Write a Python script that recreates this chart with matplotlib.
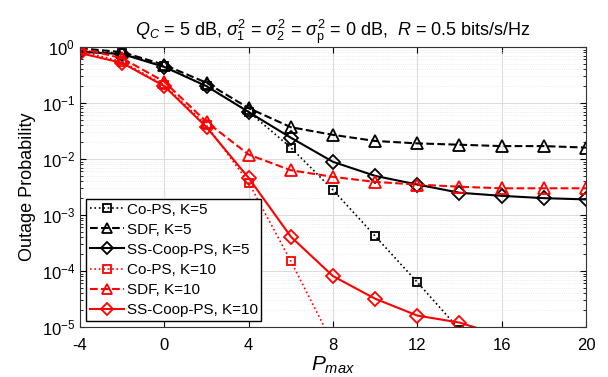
import numpy as np
import matplotlib.pyplot as plt

plt.rcParams['font.family'] = ['Liberation Sans', 'DejaVu Sans']
plt.rcParams['mathtext.fontset'] = 'custom'
plt.rcParams['mathtext.rm'] = 'Liberation Sans'
plt.rcParams['mathtext.it'] = 'Liberation Sans:italic'
plt.rcParams['axes.unicode_minus'] = False

# 发射功率 (dB)
p_max = [-4, -2, 0, 2, 4, 6, 8, 10, 12, 14, 16, 18, 20]

# K=5
co_ps_k5 = [0.85, 0.78, 0.45, 0.2, 0.07, 0.016, 0.0028, 0.00042, 6.3e-5, 9e-6]
sdf_k5 = [0.95, 0.81, 0.48, 0.23, 0.081, 0.037, 0.027, 0.021, 0.019, 0.018, 0.017, 0.017, 0.016]
ss_k5 = [0.82, 0.75, 0.44, 0.2, 0.069, 0.024, 0.0089, 0.005, 0.0035, 0.0025, 0.0022, 0.002, 0.0019]

# K=10
co_ps_k10 = [0.85, 0.55, 0.21, 0.04, 0.0038, 0.00015, 5e-6]
sdf_k10 = [0.95, 0.63, 0.24, 0.046, 0.012, 0.0063, 0.0048, 0.0039, 0.0035, 0.0032, 0.003, 0.003, 0.003]
ss_k10 = [0.78, 0.52, 0.2, 0.037, 0.0046, 0.00041, 8.1e-5, 3.2e-5, 1.6e-5, 1.2e-5, 7e-6]

fig = plt.figure(figsize=(6.08, 3.77), dpi=100)
ax = fig.add_axes([0.1316, 0.1326, 0.8322, 0.7427])

mk = dict(markerfacecolor='none', markersize=8, markeredgewidth=1.3)
ax.plot(p_max[:len(co_ps_k5)], co_ps_k5, ':', color='k', marker='s', lw=1.2,
        label='Co-PS, K=5', **dict(mk, markersize=6))
ax.plot(p_max, sdf_k5, '--', color='k', marker='^', lw=1.5, label='SDF, K=5', **mk)
ax.plot(p_max, ss_k5, '-', color='k', marker='D', lw=1.5, label='SS-Coop-PS, K=5',
        **dict(mk, markersize=7))
ax.plot(p_max[:len(co_ps_k10)], co_ps_k10, ':', color='r', marker='s', lw=1.2,
        label='Co-PS, K=10', **dict(mk, markersize=6))
ax.plot(p_max, sdf_k10, '--', color='r', marker='^', lw=1.5, label='SDF, K=10', **mk)
ax.plot(p_max[:len(ss_k10)], ss_k10, '-', color='r', marker='D', lw=1.5,
        label='SS-Coop-PS, K=10', **dict(mk, markersize=7))

ax.set_yscale('log')
ax.set_xlim(-4, 20)
ax.set_ylim(1e-5, 1)
ax.set_xticks([-4, 0, 4, 8, 12, 16, 20])
ax.grid(True, which='major', color='#dcdcdc', lw=0.8)
ax.grid(True, which='minor', color='#e6e6e6', lw=0.6, ls=':')
ax.tick_params(which='both', direction='in', top=True, right=True, labelsize=12)
ax.tick_params(axis='x', pad=8)
ax.tick_params(which='major', length=4)
ax.tick_params(which='minor', length=2)
for s in ax.spines.values():
    s.set_color('#333333')

ax.set_title(r'$Q_C$ = 5 dB, $\sigma_1^2$ = $\sigma_2^2$ = $\sigma_{\rm p}^2$ = 0 dB,  $R$ = 0.5 bits/s/Hz',
             fontsize=13, pad=8)
ax.set_xlabel(r'$P_{max}$', fontsize=15, labelpad=1)
ax.set_ylabel('Outage Probability', fontsize=13)
ax.legend(loc='lower left', fontsize=11, frameon=True, fancybox=False, edgecolor='k',
          framealpha=1, borderpad=0.25, labelspacing=0.4, handlelength=2.2,
          handletextpad=0.2, borderaxespad=0.4, markerscale=0.85)

fig.savefig('out.png', dpi=100)
